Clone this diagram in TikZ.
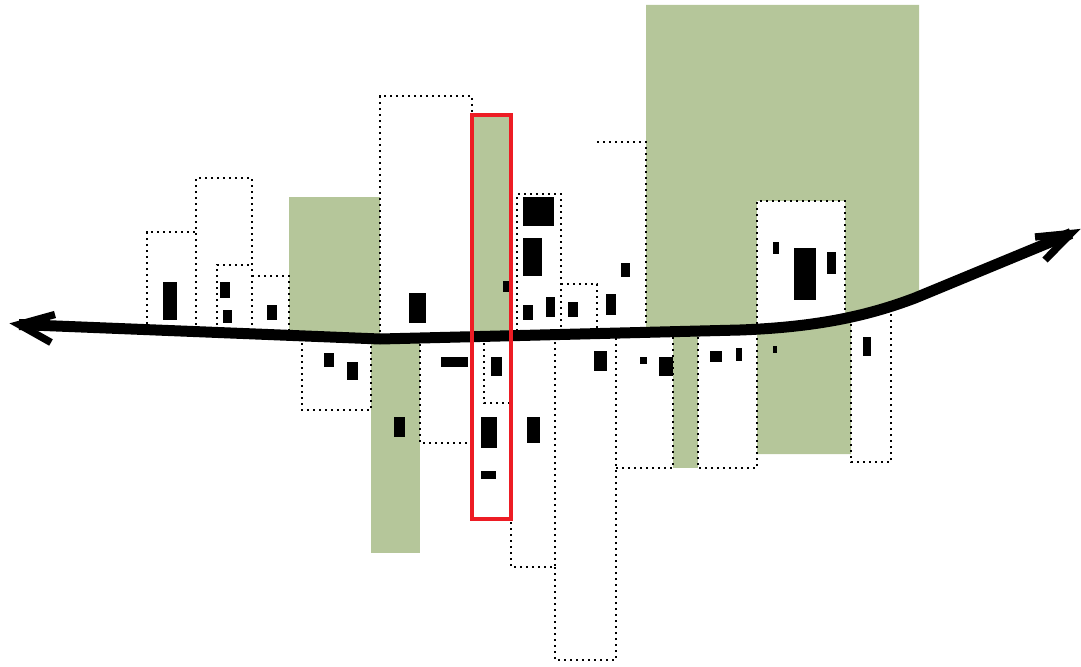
\documentclass[tikz,border=0pt]{standalone}
\definecolor{sage}{RGB}{181,198,154}
\definecolor{redbox}{RGB}{237,28,36}
\begin{document}
\begin{tikzpicture}[x=0.75pt,y=-0.75pt,
  dots/.style={line width=2pt, dash pattern=on 1.8pt off 2.7pt, line cap=butt},
  grn/.style={fill=sage},
  blk/.style={fill=black},
  shaft/.style={line width=8.25pt, line cap=butt, line join=round},
  barb/.style={line width=5.5pt, line cap=butt, line join=miter},
  frame/.style={draw=redbox, line width=3pt}]
\useasboundingbox (0,0) rectangle (1081,667);
% green areas
\fill[grn] (289,197) rectangle (380,338);
\fill[grn] (472,115) rectangle (511,338);
\fill[grn] (646,5) -- (919,5) -- (919,296.5) -- (915,298) .. controls (870,315) and (820,327) .. (740,330) -- (646,332.5) -- cycle;
\fill[grn] (371,336) rectangle (420,553);
\fill[grn] (673,331) rectangle (698,468);
\fill[grn] (757,329) -- (851,318) -- (851,454) -- (757,454) -- cycle;
\fill[white] (757,201) -- (845,201) -- (845,322) -- (757,330) -- cycle;
% dotted outlines above the line
\draw[dots] (147,330) |- (196,232);
\draw[dots] (196,331) |- (252,178) -- (252,332);
\draw[dots] (217,331) |- (252,265);
\draw[dots] (252,276) -| (289,335);
\draw[dots] (380,338) |- (472,96) -- (472,120);
\draw[dots] (517,337) |- (561,194) -- (561,336);
\draw[dots] (561,284) -| (597,335);
\draw[dots] (597,142) -| (646,333);
\draw[dots] (757,330) |- (845,201) -- (845,322);
% dotted outlines below the line
\draw[dots] (302,337) |- (371,410) -- (371,338);
\draw[dots] (420,338) |- (471,443);
\draw[dots] (484,337) |- (509,403);
\draw[dots] (511,336) |- (555,567) -- (555,336);
\draw[dots] (555,567) |- (616,660) -- (616,334);
\draw[dots] (616,468) -| (673,332);
\draw[dots] (698,331) |- (757,468) -- (757,330);
\draw[dots] (851,318) |- (891,462) -- (891,306);
% black blocks
\foreach \a/\b/\c/\d in {163/282/177/320, 220/282/230/298, 223/310/232/323, 267/305/277/320,
  409/293/426/323, 503/281/509/292, 523/197/554/226, 523/238/542/276, 523/305/533/320,
  546/297/555/317, 568/302/578/317, 606/294/616/315, 621/263/630/277, 773/242/779/254,
  794/248/816/300, 827/252/836/274,
  324/353/334/367, 347/362/358/380, 394/417/405/437, 441/357/468/367, 491/357/502/376,
  481/417/497/448, 481/471/496/479, 527/417/540/443, 594/351/607/371, 640/357/647/364,
  659/357/673/376, 710/351/722/362, 736/348/742/361, 773/346/777/353, 863/337/871/356}
  \fill[blk] (\a,\b) rectangle (\c,\d);
% double arrow
\coordinate (lv) at (19,324.5);
\coordinate (rv) at (1071,233.5);
\coordinate (lb1) at (55,314.5);
\coordinate (lb2) at (51,342.5);
\coordinate (rb1) at (1035,237);
\coordinate (rb2) at (1045,260);
\draw[shaft] (lv) -- (380,339) -- (740,330) .. controls (820,327) and (870,315) .. (915,298) -- (rv);
\draw[barb] (lb1) -- (lv) -- (lb2);
\draw[barb] (rb1) -- (rv) -- (rb2);
% red frame
\draw[frame] (472,115) rectangle (511,519);
\end{tikzpicture}
\end{document}
